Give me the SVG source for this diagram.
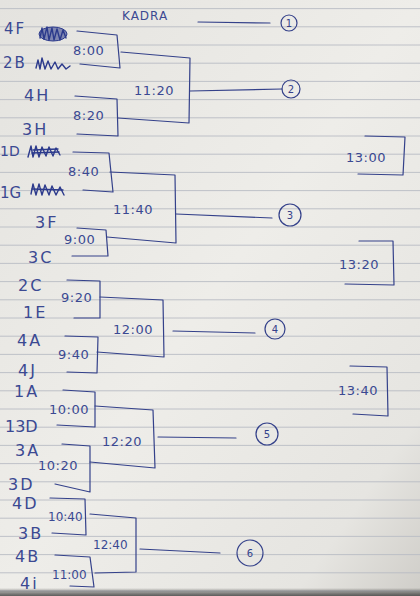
<svg xmlns="http://www.w3.org/2000/svg" width="420" height="596" viewBox="0 0 420 596">
<defs>
<linearGradient id="paper" x1="0" y1="0" x2="1" y2="1">
<stop offset="0" stop-color="#e4e3df"/>
<stop offset="0.5" stop-color="#eeede9"/>
<stop offset="0.85" stop-color="#e6e5e1"/>
<stop offset="1" stop-color="#cfcdc8"/>
</linearGradient>
<linearGradient id="shadow" x1="0" y1="0" x2="0" y2="1">
<stop offset="0" stop-color="#000" stop-opacity="0"/>
<stop offset="1" stop-color="#3a3a3a" stop-opacity="0.8"/>
</linearGradient>
</defs>
<style>
.rule{stroke:#b9bcc4;stroke-width:0.9;fill:none}
.ink{stroke:#34418a;stroke-width:1.2;fill:none;stroke-linecap:round;stroke-linejoin:round}
.lbl{font-family:"DejaVu Sans",sans-serif;font-size:16px;fill:#3b4992;letter-spacing:2px}
.tm{font-family:"DejaVu Sans",sans-serif;font-size:13px;fill:#3b4992;letter-spacing:0.5px}
.cir{stroke:#34418a;stroke-width:1.2;fill:none}
.num{font-family:"DejaVu Sans",sans-serif;font-size:10px;fill:#34418a;text-anchor:middle}
.scr{stroke:#2c3a8c;stroke-width:1.4;fill:none;stroke-linecap:round;stroke-linejoin:round}
</style>
<rect x="0" y="0" width="420" height="596" fill="url(#paper)"/>
<g id="rules">
<path class="rule" d="M0 8.6H420M0 26.8H420M0 45H420M0 63.2H420M0 81.4H420M0 99.6H420M0 117.8H420M0 136H420M0 154.2H420M0 172.4H420M0 190.6H420M0 208.8H420M0 227H420M0 245.2H420M0 263.4H420M0 281.6H420M0 299.8H420M0 318H420M0 336.2H420M0 354.4H420M0 372.6H420M0 390.8H420M0 409H420M0 427.2H420M0 445.4H420M0 463.6H420M0 481.8H420M0 500H420M0 518.2H420M0 536.4H420M0 554.6H420M0 572.8H420M0 591H420"/>
</g>
<rect x="0" y="588" width="420" height="8" fill="url(#shadow)"/>

<g id="title">
<text x="122" y="20" class="tm" style="font-size:12px;letter-spacing:1px">KADRA</text>
</g>

<g id="match1">
<text x="4" y="34" class="lbl" style="font-size:15px">4F</text>
<path class="scr" d="M40 38 L42 28 L44 39 L47 27 L49 40 L52 28 L54 40 L57 29 L60 40 L63 30 L66 38" />
<ellipse cx="53" cy="34" rx="14" ry="7" fill="#2c3a8c" fill-opacity="0.55" stroke="#2c3a8c" stroke-width="1"/>
<text x="3" y="68" class="lbl" style="font-size:15px">2B</text>
<path class="scr" d="M36 68 L38 60 L40 69 L42 58 L45 69 L48 61 L51 69 L55 62 L58 69 L62 64 L66 69 L70 66"/>
<path class="ink" d="M77 31 L117 35 L120 68 L80 64"/>
<text x="73" y="55" class="tm">8:00</text>
<text x="24" y="101" class="lbl">4H</text>
<text x="22" y="135" class="lbl">3H</text>
<path class="ink" d="M75 96 L117 99 L118 136 L77 134"/>
<text x="73" y="120" class="tm">8:20</text>
<path class="ink" d="M121 52 L190 58 L189 123 L118 118"/>
<text x="134" y="95" class="tm">11:20</text>
</g>

<g id="match2">
<text x="0" y="156" class="lbl" style="font-size:14px;letter-spacing:0">1D</text>
<path class="scr" d="M28 157 L31 146 L33 157 L36 146 L39 157 L42 147 L46 156 L49 147 L53 156 L56 148 L60 155"/>
<path class="scr" d="M33 150 L58 149 M32 153 L59 152"/>
<text x="0" y="198" class="lbl" style="font-size:15px;letter-spacing:0">1G</text>
<path class="scr" d="M31 194 L33 184 L36 195 L39 184 L42 195 L45 185 L49 195 L52 186 L56 195 L60 187 L64 195"/>
<path class="scr" d="M32 189 L63 190"/>
<path class="ink" d="M73 152 L109 153 L113 192 L83 190"/>
<text x="68" y="176" class="tm">8:40</text>
<text x="35" y="228" class="lbl">3F</text>
<text x="28" y="263" class="lbl">3C</text>
<path class="ink" d="M77 228 L106 230 L108 256 L72 256"/>
<text x="64" y="244" class="tm">9:00</text>
<path class="ink" d="M110 172 L175 175 L176 243 L107 237"/>
<text x="113" y="214" class="tm">11:40</text>
</g>

<g id="match3">
<text x="18" y="291" class="lbl">2C</text>
<text x="23" y="318" class="lbl">1E</text>
<text x="17" y="346" class="lbl">4A</text>
<text x="18" y="376" class="lbl">4J</text>
<path class="ink" d="M67 280 L100 281 L100 318 L74 318"/>
<text x="61" y="302" class="tm">9:20</text>
<path class="ink" d="M65 336 L98 337 L97 373 L67 372"/>
<text x="58" y="359" class="tm">9:40</text>
<path class="ink" d="M100 297 L163 300 L164 357 L97 352"/>
<text x="113" y="334" class="tm">12:00</text>
</g>

<g id="match4">
<text x="14" y="397" class="lbl">1A</text>
<text x="5" y="432" class="lbl" style="letter-spacing:0">13D</text>
<text x="15" y="456" class="lbl">3A</text>
<text x="8" y="490" class="lbl">3D</text>
<path class="ink" d="M63 390 L95 392 L95 427 L57 425"/>
<text x="49" y="414" class="tm">10:00</text>
<path class="ink" d="M62 444 L90 446 L90 492 L55 484"/>
<text x="38" y="470" class="tm">10:20</text>
<path class="ink" d="M95 406 L153 410 L155 468 L90 462"/>
<text x="102" y="446" class="tm">12:20</text>
</g>

<g id="match5">
<text x="12" y="509" class="lbl">4D</text>
<text x="18" y="539" class="lbl">3B</text>
<text x="15" y="562" class="lbl">4B</text>
<text x="20" y="589" class="lbl">4i</text>
<path class="ink" d="M50 498 L85 499 L86 535 L52 533"/>
<text x="48" y="521" class="tm" style="font-size:12px;letter-spacing:0">10:40</text>
<path class="ink" d="M55 555 L90 557 L94 587 L70 586"/>
<text x="52" y="579" class="tm" style="font-size:12px;letter-spacing:0">11:00</text>
<path class="ink" d="M90 514 L136 518 L136 572 L95 573"/>
<text x="93" y="549" class="tm" style="font-size:12px;letter-spacing:0">12:40</text>
</g>

<g id="final-slots">
<path class="ink" d="M365 136 L405 137 L403 175 L358 174"/>
<text x="346" y="162" class="tm">13:00</text>
<path class="ink" d="M359 241 L393 241 L394 285 L345 284"/>
<text x="339" y="269" class="tm">13:20</text>
<path class="ink" d="M350 366 L387 367 L388 416 L353 414"/>
<text x="338" y="395" class="tm">13:40</text>
</g>

<g id="connectors">
<path class="ink" d="M198 22 L270 23"/>
<path class="ink" d="M190 91 L282 89"/>
<path class="ink" d="M176 214 L272 218"/>
<path class="ink" d="M173 331 L255 333"/>
<path class="ink" d="M158 437 L236 438"/>
<path class="ink" d="M140 549 L220 553"/>
</g>

<g id="place1"><circle class="cir" cx="289" cy="23" r="8"/><text x="289" y="27" class="num">1</text></g>
<g id="place2"><circle class="cir" cx="291" cy="89" r="9"/><text x="291" y="93" class="num">2</text></g>
<g id="place3"><circle class="cir" cx="290" cy="215" r="11"/><text x="290" y="219" class="num">3</text></g>
<g id="place4"><circle class="cir" cx="275" cy="329" r="10"/><text x="275" y="333" class="num">4</text></g>
<g id="place5"><circle class="cir" cx="267" cy="434" r="11"/><text x="267" y="438" class="num">5</text></g>
<g id="place6"><circle class="cir" cx="250" cy="553" r="13"/><text x="250" y="557" class="num">6</text></g>
</svg>
